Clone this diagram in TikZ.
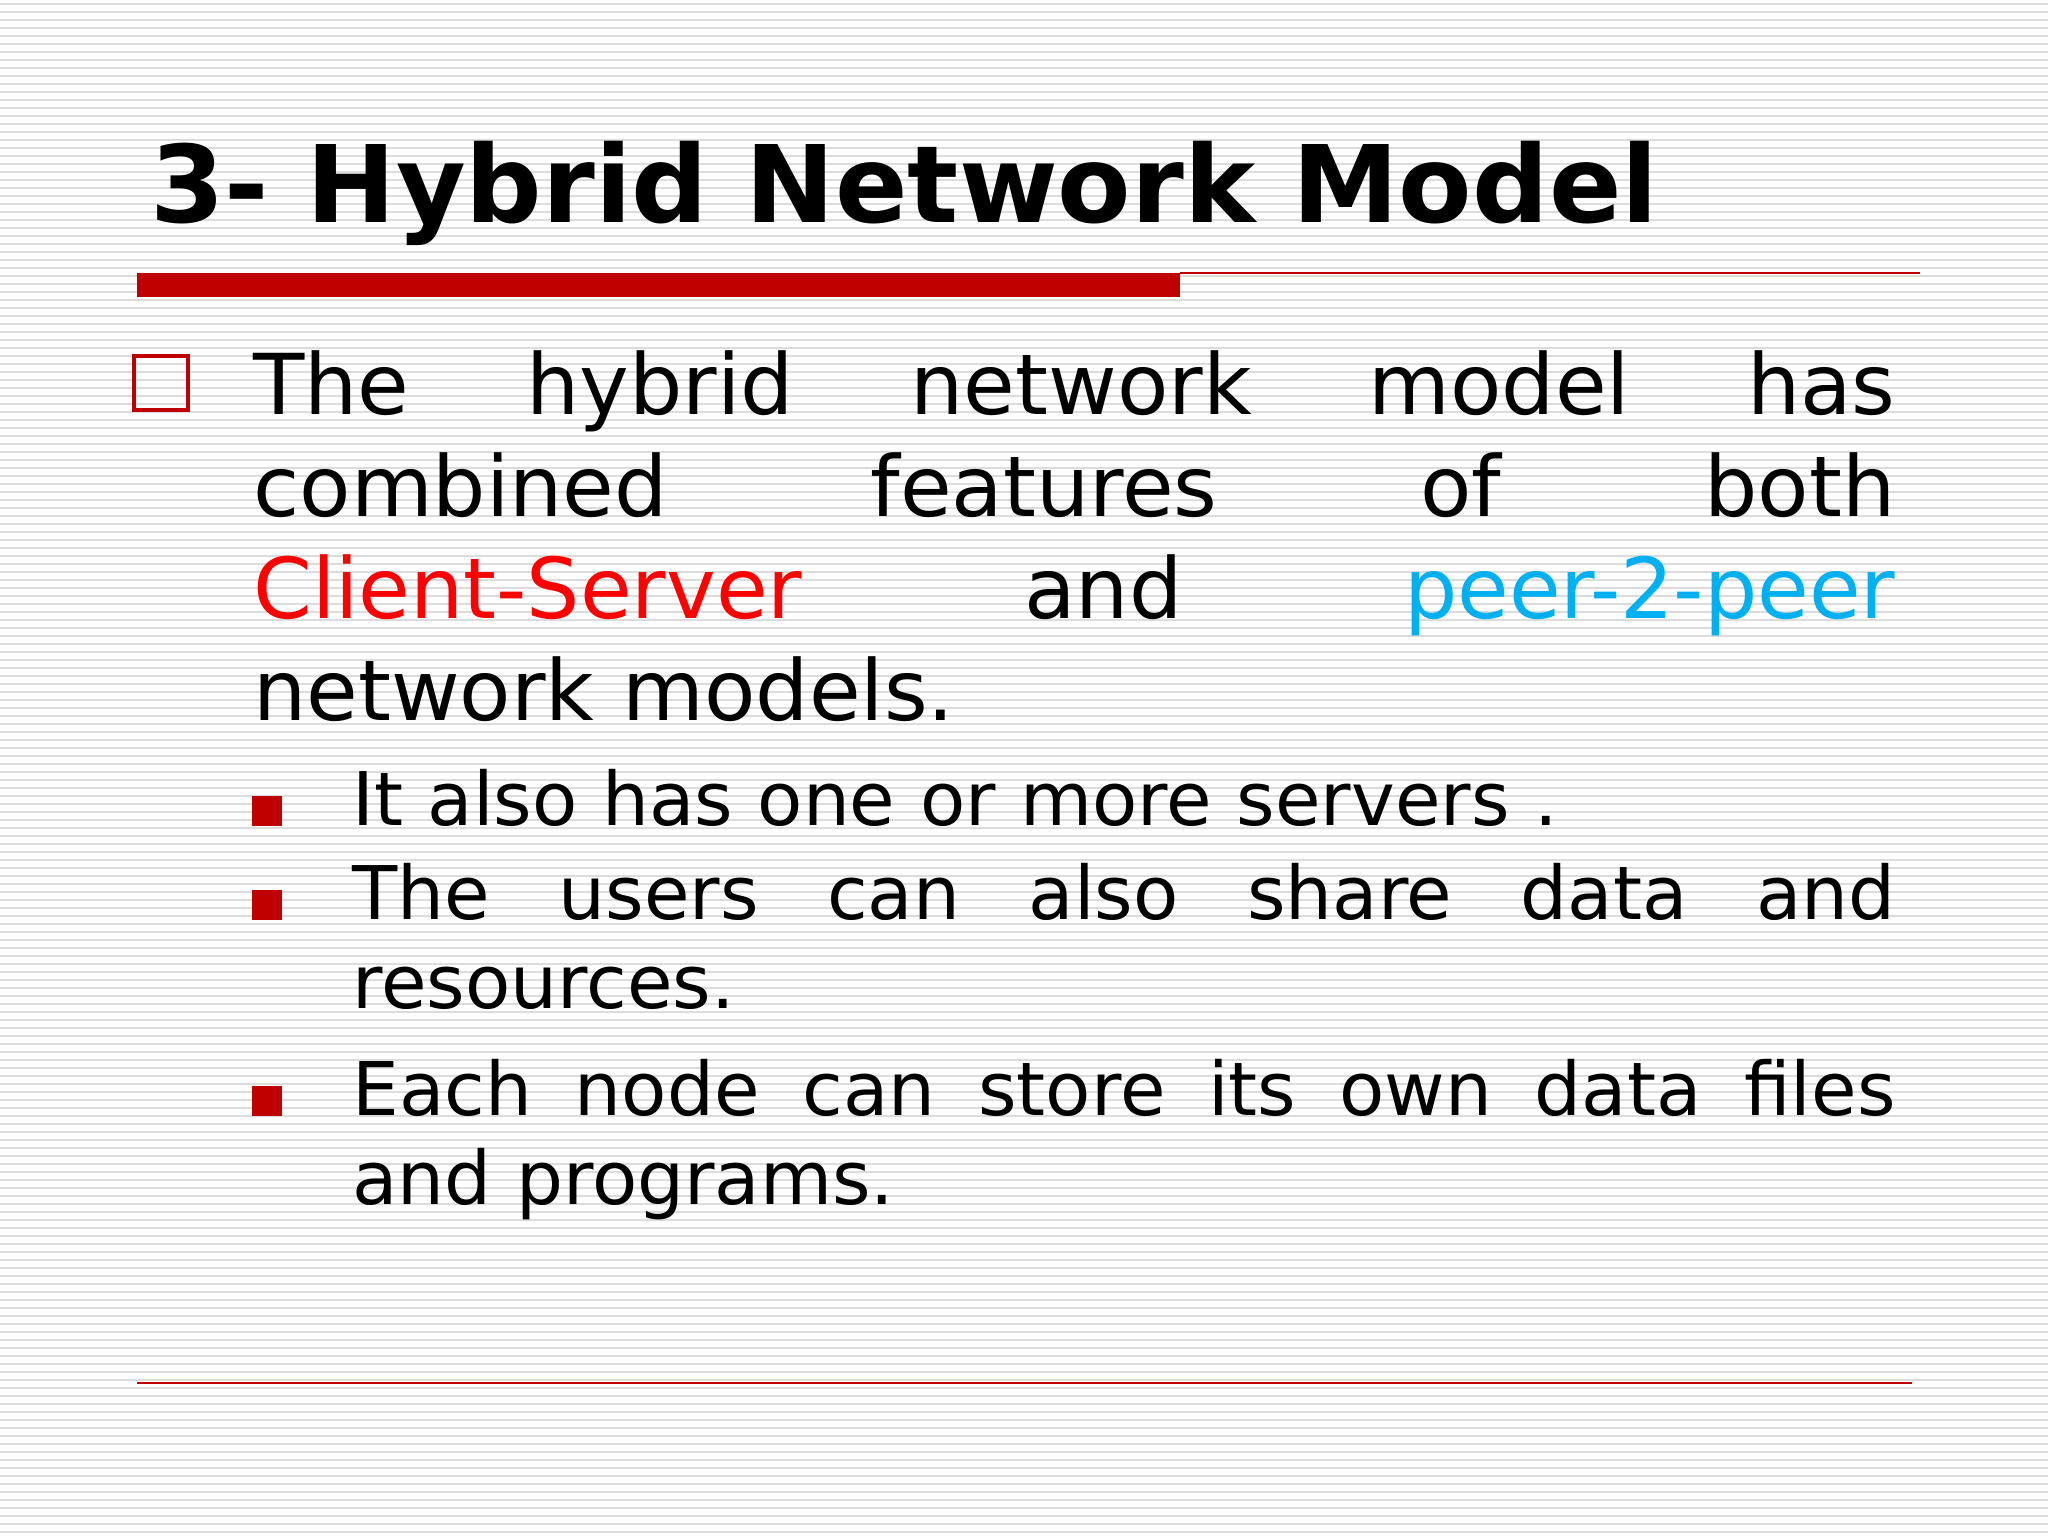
\documentclass[tikz,border=0pt]{standalone}
\usepackage{fontspec}
\setmainfont{DejaVu Sans}
\definecolor{slidered}{HTML}{C00000}
\definecolor{csred}{HTML}{FF0000}
\definecolor{peerblue}{HTML}{00B0F0}
\definecolor{stripe}{HTML}{DCDCDC}
\tikzset{
  bodyline/.style={anchor=base west,inner sep=0pt,text width=821pt,font=\fontsize{42}{48}\selectfont},
  subline/.style={anchor=base west,inner sep=0pt,text width=771.5pt,font=\fontsize{37}{44}\selectfont},
  subbullet/.style={fill=slidered,minimum size=15pt,inner sep=0pt}
}
\begin{document}
\begin{tikzpicture}[x=0.5pt,y=-0.5pt]
\useasboundingbox (0,0) rectangle (2048,1536);
\fill[white] (0,0) rectangle (2048,1536);
\foreach \i in {0,...,191}{\draw[stripe,line width=1.2pt] (0,\i*8+4) -- (2048,\i*8+4);}
\node[anchor=base west,inner sep=0pt,font=\fontsize{53.5}{60}\selectfont\bfseries] (title) at (150,222) {3- Hybrid Network Model};
\fill[slidered] (137,273) rectangle (1180,297);
\draw[slidered,line width=0.8pt] (1180,273) -- (1920,273);
\draw[slidered,line width=0.8pt] (137,1383) -- (1912,1383);
\node[draw=slidered,line width=2pt,minimum size=27pt,inner sep=0pt] (box) at (161,383) {};
\node[bodyline] (l1) at (253,414) {The\hfill hybrid\hfill network\hfill model\hfill has};
\node[bodyline] (l2) at (253,516) {combined\hfill features\hfill of\hfill both};
\node[bodyline] (l3) at (253,618) {\textcolor{csred}{Client-Server}\hfill and\hfill \textcolor{peerblue}{peer-2-peer}\hspace{15.7pt}};
\node[bodyline] (l4) at (253,720) {network models.};
\node[subbullet] (b1) at (267,811) {};
\node[subline] (s1) at (352,825) {It also has one or more servers .};
\node[subbullet] (b2) at (267,905) {};
\node[subline] (s2) at (352,919) {The\hfill users\hfill can\hfill also\hfill share\hfill data\hfill and};
\node[subline] (s3) at (352,1008) {resources.};
\node[subbullet] (b3) at (267,1101) {};
\node[subline] (s4) at (352,1115) {Each\hfill node\hfill can\hfill store\hfill its\hfill own\hfill data\hfill files};
\node[subline] (s5) at (352,1204) {and programs.};
\end{tikzpicture}
\end{document}
